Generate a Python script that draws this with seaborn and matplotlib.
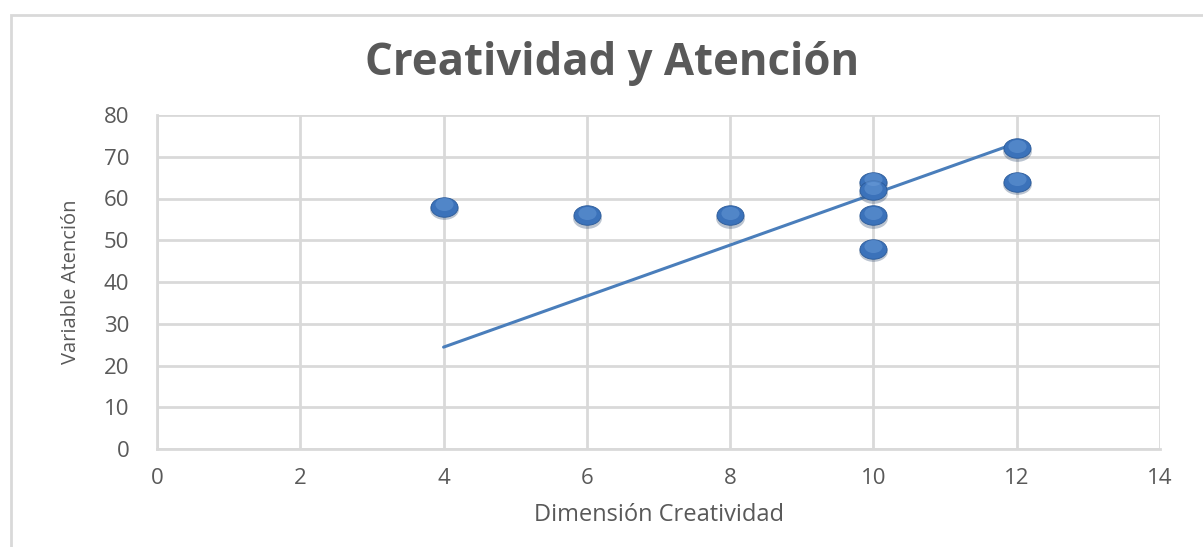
import numpy as np
import matplotlib
matplotlib.use('Agg')
import matplotlib.pyplot as plt
import seaborn as sns
from matplotlib.path import Path
from matplotlib.patches import Rectangle

# Data
creatividad = [4, 6, 8, 10, 10, 10, 10, 12, 12]
atencion = [58, 56, 56, 64, 62, 56, 48, 72, 64]

# Trendline as drawn in the reference (endpoints)
trend_x = [4, 12]
trend_y = [24.4, 73.3]

x_ticks = [0, 2, 4, 6, 8, 10, 12, 14]
y_ticks = [0, 10, 20, 30, 40, 50, 60, 70, 80]

sns.set_style('white')
plt.rcParams['font.family'] = ['Open Sans', 'DejaVu Sans']

fig = plt.figure(figsize=(12.03, 5.47), dpi=100)
ax = fig.add_axes([157 / 1203, 1 - 449 / 547, (1160 - 157) / 1203, (449 - 115) / 547])

# Outer chart border (light gray, top and left only visible)
fig.patches.append(Rectangle((11 / 1203, -0.1), 1.2, 1 - 15 / 547 + 0.1,
                             transform=fig.transFigure, fill=False,
                             edgecolor='#D9D9D9', linewidth=2, zorder=0))

# Flattened ellipse marker
circ = Path.unit_circle()
ellipse = Path(circ.vertices * np.array([1.0, 0.72]), circ.codes)

ax.grid(True, color='#D9D9D9', linewidth=2)
ax.set_axisbelow(True)

# Trendline
sns.lineplot(x=trend_x, y=trend_y, ax=ax, color='#4A7EBB', linewidth=2.2, zorder=2)

# Shadow, body and soft highlight for a 3D-ish look
ax.scatter(creatividad, np.array(atencion) - 0.6, marker=ellipse, s=430,
           color='#1F3D66', alpha=0.3, linewidths=0, zorder=3)
sns.scatterplot(x=creatividad, y=atencion, ax=ax, marker=ellipse, s=380,
                color='#3B72BA', edgecolor='#2A5A99', linewidth=0.6, zorder=4)
ax.scatter(creatividad, np.array(atencion) + 0.6, marker=ellipse, s=170,
           color='#6E9FDB', alpha=0.45, linewidths=0, zorder=5)

ax.set_xlim(0, 14)
ax.set_ylim(0, 80)
ax.set_xticks(x_ticks)
ax.set_yticks(y_ticks)
ax.tick_params(axis='both', labelsize=16, labelcolor='#595959', length=0)
ax.tick_params(axis='x', pad=14)
ax.tick_params(axis='y', pad=20)

for side in ['top', 'right']:
    ax.spines[side].set_visible(False)
for side in ['left', 'bottom']:
    ax.spines[side].set_color('#D9D9D9')
    ax.spines[side].set_linewidth(2)

ax.set_xlabel('Dimensión Creatividad', fontsize=17, color='#595959', labelpad=10)
ax.set_ylabel('Variable Atención', fontsize=14.5, color='#595959', labelpad=16)

fig.text(612 / 1203, 1 - 63 / 547, 'Creatividad y Atención', ha='center', va='center',
         fontsize=31.5, fontweight='bold', color='#595959')

fig.savefig('out.png', dpi=100)
